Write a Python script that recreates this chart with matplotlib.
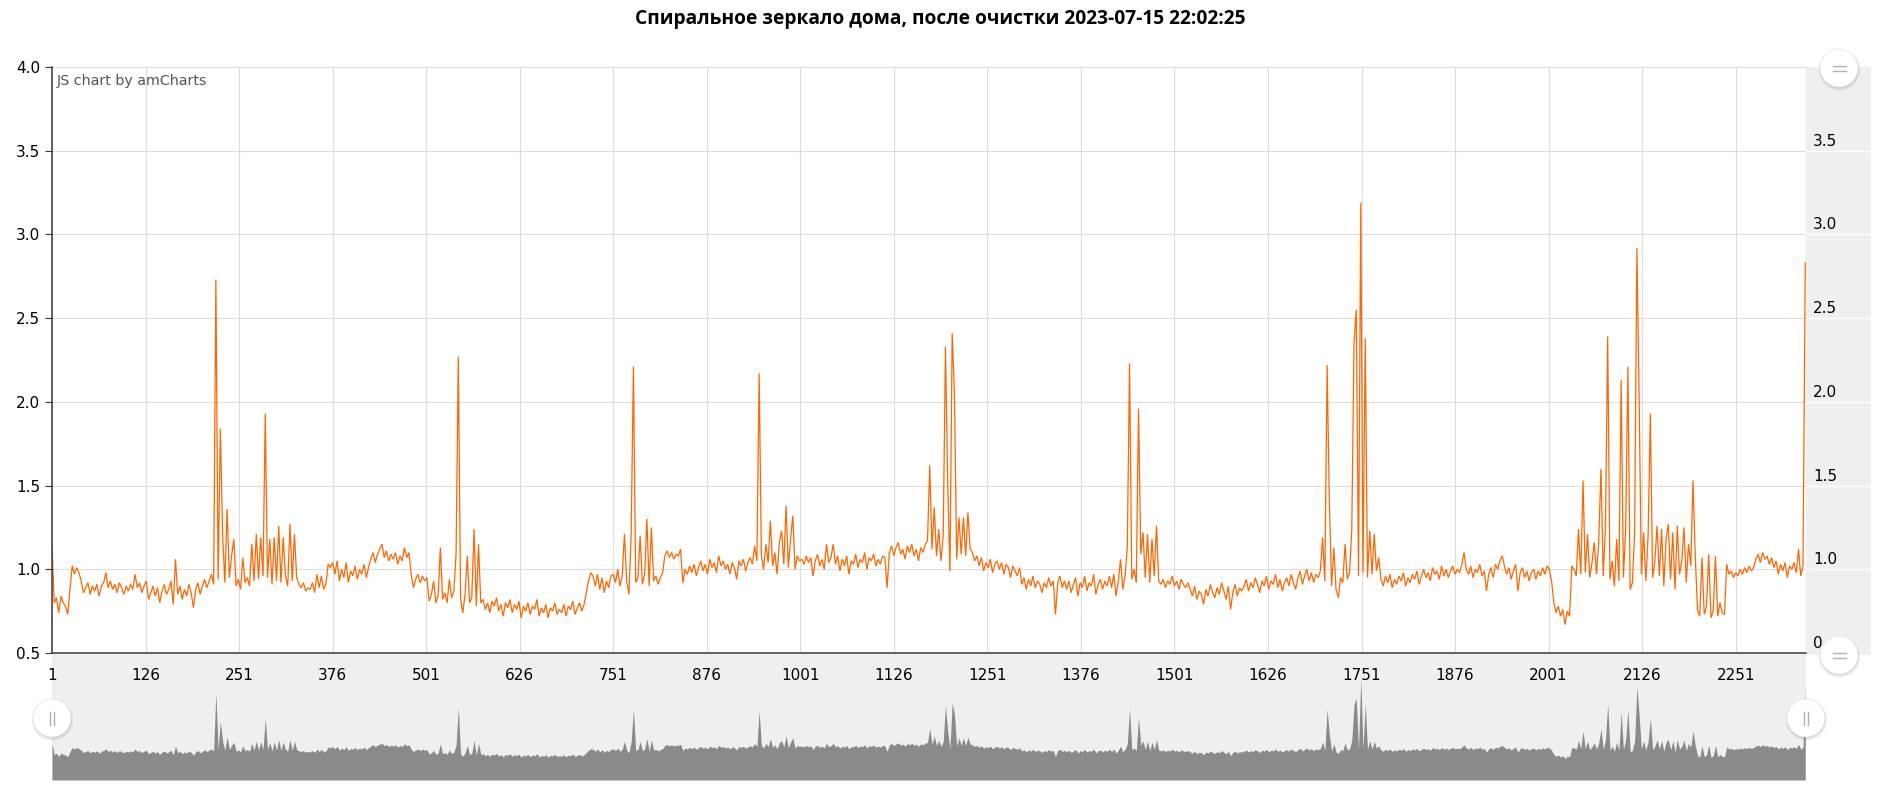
import numpy as np
import matplotlib
matplotlib.use("Agg")
import matplotlib.pyplot as plt
from matplotlib.patches import Circle

# ---------------- data (one value every 3 indices) ----------------
title = "Спиральное зеркало дома, после очистки 2023-07-15 22:02:25"
x_ticks = [1, 126, 251, 376, 501, 626, 751, 876, 1001, 1126, 1251, 1376, 1501,
           1626, 1751, 1876, 2001, 2126, 2251]
y_ticks = [0.5, 1.0, 1.5, 2.0, 2.5, 3.0, 3.5, 4.0]
right_labels = ["0", "1.0", "1.5", "2.0", "2.5", "3.0", "3.5"]
right_label_pos = [0.5, 1.0, 1.5, 2.0, 2.5, 3.0, 3.5]
step = 3

part_0001 = [1.14, 0.80, 0.83, 0.74, 0.84, 0.80, 0.78, 0.73, 0.88, 1.02, 0.97, 1.01, 0.98]
part_0040 = [0.93, 0.86, 0.89, 0.92, 0.85, 0.90, 0.87, 0.91, 0.84, 0.90, 0.92, 0.98, 0.89, 0.93,
             0.88, 0.91, 0.86, 0.92, 0.89, 0.85, 0.90, 0.87, 0.91, 0.88, 0.97, 0.89, 0.92, 0.86,
             0.90, 0.93, 0.82]
part_0133 = [0.86, 0.90, 0.84, 0.89, 0.80, 0.87, 0.91, 0.85, 0.88, 0.93, 0.79, 1.06, 0.85, 0.90,
             0.82, 0.88, 0.84, 0.91, 0.86, 0.77, 0.88, 0.92, 0.85, 0.90, 0.94, 0.89]
part_0211 = [0.93, 0.97, 0.91, 2.73, 0.94, 1.84, 1.21, 0.92, 1.36, 0.95, 1.08]
part_0244 = [1.18, 0.90, 0.94, 0.88, 1.07, 0.92, 0.95, 0.90, 1.15, 0.93, 1.21, 0.94, 1.19, 0.96,
             1.93, 0.95, 1.18, 0.91, 1.19, 0.93, 1.26, 0.92, 1.19, 0.96, 0.90, 1.27, 0.93, 1.21,
             0.95, 0.91, 0.89, 0.92, 0.87, 0.89]
part_0346 = [0.88, 0.92, 0.86, 0.97, 0.89, 0.96, 0.88, 0.91, 1.03, 1.01, 1.04,
             0.97, 1.05, 0.93, 1.00, 0.95, 1.04, 0.92, 0.99, 0.96, 1.02, 0.94, 1.00, 0.97, 1.03,
             0.95, 1.01]
part_0427 = [1.06, 1.10, 1.04, 1.09, 1.12, 1.15, 1.07, 1.11, 1.05, 1.09, 1.06, 1.10, 1.03, 1.08,
             1.05, 1.13, 1.07, 1.10]
part_0481 = [0.97, 0.89, 0.94, 0.97, 0.92, 0.96, 0.93, 0.95,
             0.81, 0.85, 0.93, 0.80, 0.84, 1.13, 0.82, 0.86, 0.80, 0.94, 0.83, 0.87, 1.09,
             2.27, 0.82, 0.74, 0.85, 1.08, 0.80, 0.83, 1.24, 0.78, 1.15, 0.80]
part_0577 = [0.82, 0.76, 0.80, 0.74, 0.81, 0.78, 0.83, 0.75, 0.79, 0.72, 0.80, 0.77, 0.82, 0.74,
             0.79, 0.76, 0.81, 0.71, 0.78, 0.75, 0.80, 0.73, 0.78, 0.76, 0.82, 0.72, 0.77, 0.74,
             0.79, 0.71, 0.77, 0.75, 0.80, 0.73, 0.76,
             0.74, 0.79, 0.72, 0.78, 0.76, 0.81, 0.73, 0.77, 0.80, 0.75, 0.79,
             0.86, 0.93, 0.98,
             0.96, 0.90, 0.97, 0.88, 0.95, 0.86, 0.93, 0.89, 0.96]
part_0751 = [0.97, 0.92, 1.00, 0.90, 0.96, 1.21, 0.93, 0.85, 1.21, 2.21, 0.92, 0.95, 1.20, 0.91,
             0.97, 1.30, 0.90, 1.25, 0.93, 0.96, 0.91, 0.95, 0.98,
             1.08, 1.11, 1.07, 1.10, 1.06, 1.09, 1.08, 1.12]
part_0844 = [0.92, 1.00, 0.97, 1.02, 0.98, 1.03, 0.96, 1.01, 1.05, 0.99, 1.03, 0.97, 1.06, 1.01,
             1.04, 0.98, 1.08, 1.02, 1.05, 1.00, 1.03, 0.97, 1.04, 1.01, 0.94, 1.05, 1.02, 1.06,
             0.99, 1.04, 1.07, 1.03,
             1.14, 1.05, 2.17, 1.08, 1.00, 1.15, 1.04, 1.29, 1.02, 1.10, 0.97, 1.16, 1.23, 1.03,
             1.38, 1.01, 1.18, 1.32, 1.00, 1.08, 1.05]
part_1003 = [1.06, 1.03, 1.08, 1.04, 1.07, 0.96, 1.05, 1.09, 1.02, 1.06, 1.00, 1.15, 1.04, 1.07,
             1.15, 1.03, 1.08, 0.99, 1.06, 1.02, 1.08, 0.97, 1.05, 1.03, 1.09, 1.01, 1.06, 1.04,
             1.10, 1.00, 1.07, 1.05, 1.09, 1.02, 1.06, 1.03, 1.08]
part_1114 = [1.07, 0.89, 1.10, 1.14, 1.08, 1.13, 1.16, 1.09, 1.12, 1.06, 1.14, 1.10, 1.15, 1.08,
             1.12, 1.05, 1.13, 1.10, 1.15, 1.17,
             1.62, 1.12, 1.37, 1.08, 1.24, 1.05, 1.20, 2.33, 1.51, 0.99, 2.41, 2.05, 1.06, 1.31,
             1.09, 1.31, 1.08, 1.34, 1.12]
part_1231 = [1.10, 1.05, 1.08, 1.02, 1.07, 0.99, 1.04, 1.01, 1.06, 0.98, 1.03, 1.05, 1.00, 1.04,
             0.97, 1.03, 1.01, 0.95, 1.02, 0.99, 0.96, 1.01,
             0.91, 0.95, 0.88, 0.94, 0.90, 0.96, 0.89, 0.93, 0.91, 0.86, 0.92, 0.89, 0.95, 0.90,
             0.93, 0.73, 0.92, 0.96, 0.89, 0.93]
part_1357 = [0.88, 0.93, 0.86, 0.91, 0.95, 0.84, 0.92, 0.89, 0.96, 0.87, 0.92, 0.90, 0.97, 0.85,
             0.91, 0.94, 0.88, 0.93, 0.90, 0.96, 0.89,
             0.97, 0.84, 0.93, 1.06, 0.88, 0.96, 1.13, 2.23, 0.94, 1.00, 0.92, 1.96, 1.09, 1.22,
             0.95, 1.21, 0.92, 1.18, 0.96, 1.26, 0.93]
part_1483 = [0.91, 0.94, 0.89, 0.93, 0.91, 0.96, 0.90, 0.93, 0.88, 0.94, 0.91, 0.89, 0.92,
             0.88, 0.84, 0.90, 0.82, 0.87, 0.85, 0.79, 0.88, 0.84, 0.91, 0.86, 0.83, 0.89, 0.85,
             0.92, 0.87, 0.82, 0.90, 0.76, 0.86, 0.91, 0.84, 0.89, 0.87,
             0.90, 0.94, 0.87, 0.92, 0.89, 0.95, 0.91, 0.86, 0.93, 0.90, 0.96, 0.88, 0.93, 0.91,
             0.97, 0.89, 0.94, 0.87, 0.92, 0.95, 0.90, 0.97, 0.92, 0.88, 0.95, 0.99, 0.91, 0.96,
             1.00, 0.93, 0.98, 0.92, 0.97]
part_1693 = [0.95, 0.99, 1.19, 0.93, 2.22, 1.41, 0.90, 1.13, 0.88, 0.83, 0.95, 0.92, 1.15, 0.94,
             0.98,
             1.24, 2.35, 2.55, 0.96, 3.19, 0.98, 2.38,
             0.95, 1.23, 0.97, 1.21, 0.99, 1.07]
part_1777 = [0.94, 0.90, 0.96, 0.92, 0.97, 0.89, 0.94, 0.91, 0.96, 0.93, 0.98, 0.90, 0.95, 0.92,
             0.97, 0.94, 0.99, 0.91, 0.96, 1.00, 0.95, 0.98, 0.93, 1.01, 0.97, 0.99, 0.94, 1.02,
             0.96, 1.00, 0.95, 0.99, 1.02, 0.97, 1.00,
             0.98, 1.03, 1.10, 1.00, 0.97, 1.02, 0.95, 1.00, 0.98, 1.03, 0.96, 0.99, 0.87, 0.97,
             1.01, 0.95, 1.03, 1.00, 1.05, 1.08, 1.02, 0.97, 1.01, 0.94, 0.99, 1.03, 0.87, 0.98,
             1.01, 0.95, 0.99, 0.93, 0.98, 1.00, 0.94, 0.99, 0.96, 1.01, 0.97, 1.02, 1.00]
part_2005 = [0.93, 0.80, 0.74, 0.78, 0.72, 0.76, 0.67, 0.75, 0.72,
             1.02, 1.00, 0.96, 1.24, 0.97, 1.53, 0.98, 1.21, 0.95, 1.04, 1.16, 0.97, 1.16,
             1.60, 0.96, 1.25, 2.39, 0.94, 1.05, 0.90, 1.18, 0.93, 2.13, 0.95, 1.24, 2.21, 0.88,
             0.92, 1.22, 2.92, 2.02, 0.97, 1.22, 0.93, 1.20, 1.93, 0.95, 1.05]
part_2146 = [1.26, 0.96, 1.24, 0.90, 1.18, 1.27, 0.94, 1.22, 0.88, 1.26, 0.97, 1.05, 1.25, 0.92,
             1.15, 1.02,
             1.53,
             1.08, 0.76, 0.72, 1.07, 0.73, 0.78, 1.09, 0.71, 0.75, 1.08, 0.72, 0.80, 0.74, 0.73]
part_2239 = [1.03, 0.97, 0.99, 0.95, 0.98, 0.96, 1.00, 0.97, 1.01, 0.98, 1.02, 0.99, 1.01,
             1.06, 1.09, 1.04, 1.10, 1.06, 1.08, 1.03, 1.07,
             1.01, 1.05, 0.97, 1.03, 0.99, 1.04, 0.95, 1.02, 1.00, 1.04, 0.98, 1.12, 0.96, 1.02,
             2.83]

series_parts = [(1, part_0001), (40, part_0040), (133, part_0133), (211, part_0211),
                (244, part_0244), (346, part_0346), (427, part_0427), (481, part_0481),
                (577, part_0577), (751, part_0751), (844, part_0844), (1003, part_1003),
                (1114, part_1114), (1231, part_1231), (1357, part_1357), (1483, part_1483),
                (1693, part_1693), (1777, part_1777), (2005, part_2005), (2146, part_2146),
                (2239, part_2239)]

xs, ys = [], []
for start, vals in series_parts:
    xs.extend(start + step * np.arange(len(vals)))
    ys.extend(vals)
xs = np.array(xs, dtype=float)
ys = np.array(ys, dtype=float)

# ---------------- layout (pixels) ----------------
W, H = 1880, 788
fig = plt.figure(figsize=(W / 100, H / 100), dpi=100)
fig.patch.set_facecolor("white")
L, R, T, B = 52, 1806, 67, 653
SB_BOT = 780
ORANGE = "#FF6600"
GRID = "#dcdcdc"
TICK_FS = 11

def box(x0, y0, x1, y1):
    return [x0 / W, 1 - y1 / H, (x1 - x0) / W, (y1 - y0) / H]

# scrollbar band
sb = fig.add_axes(box(L, B, R, SB_BOT), zorder=1)
sb.set_facecolor("#efefef")
sb.fill_between(xs, 0, ys, color="#8a8a8a", lw=0)
sb.set_xlim(1, 2345)
sb.set_ylim(0, (SB_BOT - B) / 32.0)
sb.set_xticks([]); sb.set_yticks([])
for s in sb.spines.values():
    s.set_visible(False)

# right panel
rp = fig.add_axes(box(R, T, 1871, B + 2), zorder=1)
rp.set_facecolor("#efefef")
rp.set_xlim(0, 1); rp.set_ylim(0.5 - 2 * 3.5 / 586, 4.0)
rp.set_xticks([]); rp.set_yticks([])
for s in rp.spines.values():
    s.set_visible(False)
for v in [1.0, 1.5, 2.0, 2.5, 3.0, 3.5]:
    rp.axhline(v, color="white", lw=1.0)
for lab, v in zip(right_labels, right_label_pos):
    rp.text(0.11, v + 0.012, lab, ha="left", va="bottom", fontsize=TICK_FS,
            family="DejaVu Sans", color="#000000")

# main chart
ax = fig.add_axes(box(L, T, R, B), zorder=3)
ax.set_facecolor("white")
ax.plot(xs, ys, color=ORANGE, lw=0.9, solid_joinstyle="miter")
ax.set_xlim(1, 2345)
ax.set_ylim(0.5, 4.0)
ax.set_xticks(x_ticks)
ax.set_xticklabels([str(t) for t in x_ticks])
ax.set_yticks(y_ticks)
ax.set_yticklabels([f"{t:.1f}" for t in y_ticks])
ax.grid(True, color=GRID, lw=0.75)
ax.set_axisbelow(True)
for side in ["top", "right"]:
    ax.spines[side].set_visible(False)
for side in ["left", "bottom"]:
    ax.spines[side].set_color("#3a3a3a")
    ax.spines[side].set_linewidth(1.1)
ax.tick_params(axis="y", length=5, width=0.8, color="#3a3a3a", pad=3.5,
               labelsize=TICK_FS, labelcolor="#000000")
ax.tick_params(axis="x", length=0, pad=11, labelsize=TICK_FS, labelcolor="#000000")
for lab in ax.get_xticklabels() + ax.get_yticklabels():
    lab.set_family("DejaVu Sans")

# texts
fig.text(940 / W, 1 - 19 / H, title, ha="center", va="center", fontsize=13.8,
         fontweight="bold", family=["Open Sans", "DejaVu Sans"], color="#000000")
fig.text(57 / W, 1 - 81 / H, "JS chart by amCharts", ha="left", va="center",
         fontsize=10.3, family="DejaVu Sans", color="#555555", zorder=5)

# overlay with round buttons
ov = fig.add_axes([0, 0, 1, 1], zorder=10)
ov.set_xlim(0, W); ov.set_ylim(H, 0)
ov.axis("off")

def button(cx, cy, kind):
    ov.add_patch(Circle((cx + 0.5, cy + 2.0), 20.5, color=(0, 0, 0, 0.07), lw=0))
    ov.add_patch(Circle((cx + 0.3, cy + 1.0), 19.5, color=(0, 0, 0, 0.08), lw=0))
    ov.add_patch(Circle((cx, cy), 19, facecolor="white", edgecolor="#e4e4e4", lw=0.5))
    if kind == "h":
        for dy in (-2.5, 2.5):
            ov.plot([cx - 6.5, cx + 6.5], [cy + dy, cy + dy], color="#b0b0b0", lw=1.0)
    else:
        for dx in (-2, 2):
            ov.plot([cx + dx, cx + dx], [cy - 6.5, cy + 6.5], color="#b0b0b0", lw=1.0)

button(1839, 68, "h")
button(1839, 655, "h")
button(52, 718, "v")
button(1806, 718, "v")

fig.savefig("out.png", dpi=100, facecolor="white")
